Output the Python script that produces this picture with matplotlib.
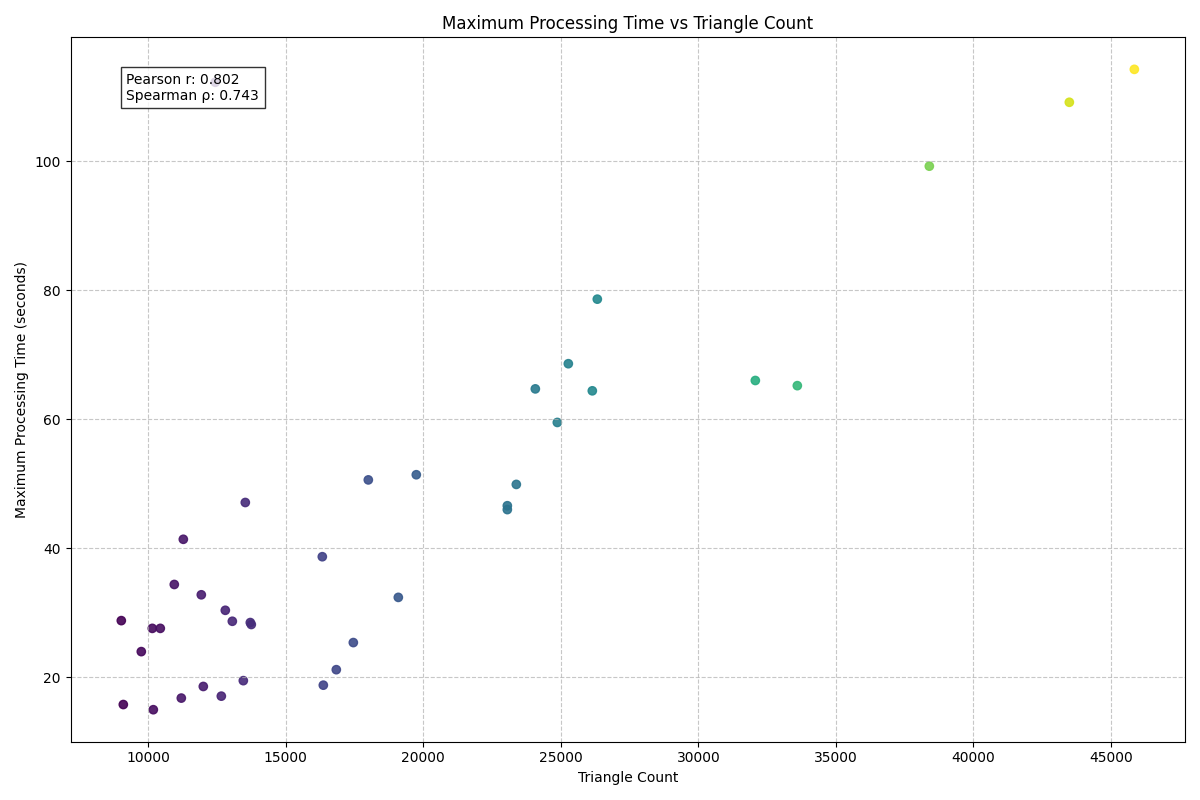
import numpy as np
import matplotlib.pyplot as plt

triangles = [9018, 9091, 9745, 10145, 10436, 10182, 10945, 11200, 11273, 11927,
             12000, 12655, 12800, 13055, 13455, 13527, 13709, 13745, 12436, 16327,
             16364, 16836, 17455, 18000, 19091, 19745, 23055, 23055, 23382, 24073,
             24873, 25273, 26145, 26327, 32073, 33600, 38400, 43491, 45855]
max_time = [28.8, 15.8, 24.0, 27.6, 27.6, 15.0, 34.4, 16.8, 41.4, 32.8,
            18.6, 17.1, 30.4, 28.7, 19.5, 47.1, 28.5, 28.2, 112.2, 38.7,
            18.8, 21.2, 25.4, 50.6, 32.4, 51.4, 46.0, 46.6, 49.9, 64.7,
            59.5, 68.6, 64.4, 78.6, 66.0, 65.2, 99.2, 109.1, 114.2]
pearson_r = 0.802
spearman_rho = 0.743

fig, ax = plt.subplots(figsize=(12, 8), dpi=100)
ax.scatter(triangles, max_time, c=triangles, cmap='viridis', alpha=0.9)
ax.grid(True, linestyle='--', alpha=0.7)
ax.set_title("Maximum Processing Time vs Triangle Count")
ax.set_xlabel("Triangle Count")
ax.set_ylabel("Maximum Processing Time (seconds)")
ax.text(0.05, 0.95, f"Pearson r: {pearson_r:.3f}\nSpearman ρ: {spearman_rho:.3f}",
        transform=ax.transAxes, va='top',
        bbox=dict(facecolor='white', alpha=0.8))
plt.tight_layout()
plt.savefig("out.png")
